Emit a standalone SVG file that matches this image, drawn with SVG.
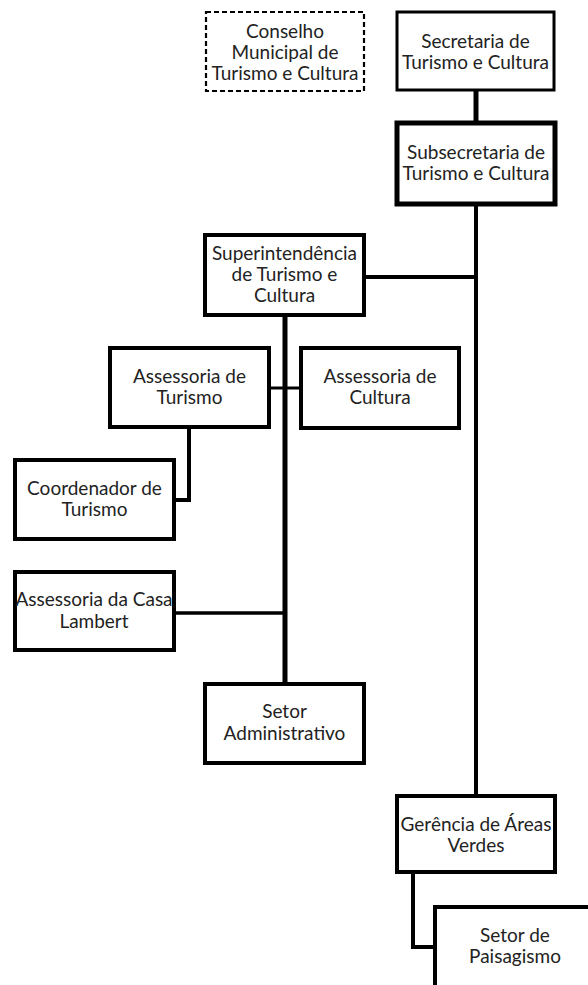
<svg xmlns="http://www.w3.org/2000/svg" width="588" height="985" viewBox="0 0 588 985">
<style>
.box{fill:#fff;stroke:#000;stroke-width:4}
.dash{fill:#fff;stroke:#000;stroke-width:2.2;stroke-dasharray:5 3}
.thick{stroke-width:5}
.thin{stroke-width:3}
text{font-family:Lato,"Liberation Sans",sans-serif;font-size:19px;fill:#222;text-anchor:middle}
.con{fill:none;stroke:#000;stroke-width:4}
</style>
<rect width="588" height="985" fill="#fff"/>
<g id="connectors">
<line class="con" x1="476" y1="90" x2="476" y2="123" style="stroke-width:5"/>
<line class="con" x1="476" y1="204" x2="476" y2="796"/>
<line class="con" x1="364" y1="277" x2="476" y2="277"/>
<line class="con" x1="285" y1="315" x2="285" y2="684" style="stroke-width:5"/>
<line class="con" x1="269" y1="388" x2="301" y2="388" style="stroke-width:3"/>
<polyline class="con" points="189,427 189,500 174,500"/>
<line class="con" x1="174" y1="613" x2="285" y2="613" style="stroke-width:3.5"/>
<polyline class="con" points="413,872 413,947 435,947"/>
</g>
<g id="conselho">
<rect class="dash" x="206" y="12" width="158" height="79"/>
<text x="285" y="38">Conselho</text>
<text x="285" y="59">Municipal de</text>
<text x="285" y="80">Turismo e Cultura</text>
</g>
<g id="secretaria">
<rect class="box thin" x="397" y="12" width="157" height="78"/>
<text x="475.5" y="48">Secretaria de</text>
<text x="475.5" y="69">Turismo e Cultura</text>
</g>
<g id="subsecretaria">
<rect class="box thick" x="397" y="123" width="158" height="81"/>
<text x="476" y="159">Subsecretaria de</text>
<text x="476" y="180">Turismo e Cultura</text>
</g>
<g id="superintendencia">
<rect class="box" x="205" y="235" width="159" height="80"/>
<text x="284.5" y="260">Superintendência</text>
<text x="284.5" y="281">de Turismo e</text>
<text x="284.5" y="302">Cultura</text>
</g>
<g id="assessoria-turismo">
<rect class="box" x="110" y="348" width="159" height="79"/>
<text x="189.5" y="383">Assessoria de</text>
<text x="189.5" y="404">Turismo</text>
</g>
<g id="assessoria-cultura">
<rect class="box" x="301" y="348" width="158" height="80"/>
<text x="380" y="383">Assessoria de</text>
<text x="380" y="404">Cultura</text>
</g>
<g id="coordenador">
<rect class="box" x="15" y="460" width="159" height="79"/>
<text x="94.5" y="495">Coordenador de</text>
<text x="94.5" y="516">Turismo</text>
</g>
<g id="casa-lambert">
<rect class="box" x="15" y="572" width="159" height="78"/>
<text x="94" y="606">Assessoria da Casa</text>
<text x="94" y="628">Lambert</text>
</g>
<g id="setor-administrativo">
<rect class="box" x="205" y="684" width="159" height="79"/>
<text x="284.5" y="718">Setor</text>
<text x="284.5" y="740">Administrativo</text>
</g>
<g id="gerencia">
<rect class="box" x="397" y="796" width="158" height="76"/>
<text x="476" y="831">Gerência de Áreas</text>
<text x="476" y="852">Verdes</text>
</g>
<g id="paisagismo">
<rect class="box" x="435" y="907" width="170" height="100"/>
<text x="515" y="942">Setor de</text>
<text x="515" y="963">Paisagismo</text>
</g>
</svg>
